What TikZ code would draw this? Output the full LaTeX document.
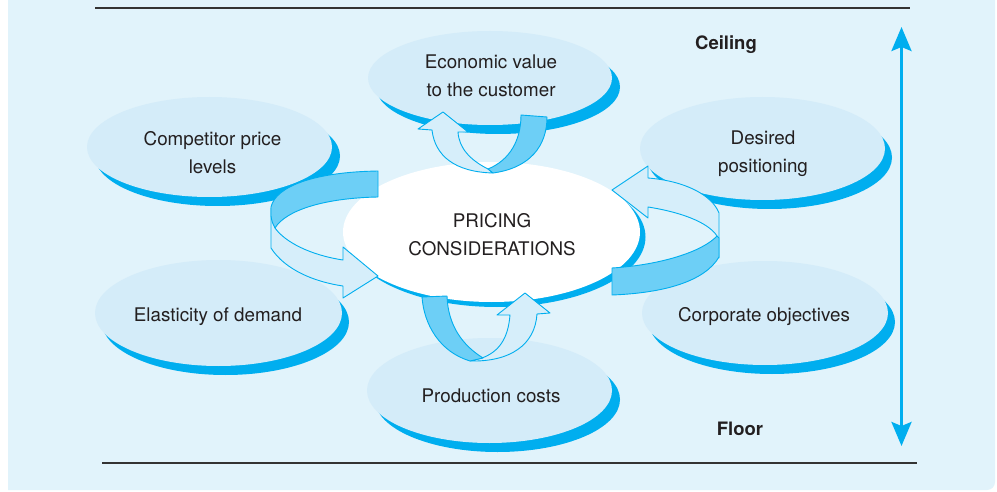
\documentclass[tikz,border=0pt]{standalone}
\usepackage{fontspec}
\setmainfont{TeX Gyre Heros}
\usetikzlibrary{arrows.meta}
\definecolor{bg}{HTML}{E1F3FB}
\definecolor{ell}{HTML}{D4ECF9}
\definecolor{cyanb}{HTML}{00AEEF}
\definecolor{darkrib}{HTML}{6DCFF6}
\definecolor{literib}{HTML}{D6EEFA}
\definecolor{txt}{HTML}{231F20}
\newcommand\bubbleE[6]{%
  \fill[cyanb] ({#1+#5},{#2+#6}) ellipse [x radius=#3, y radius=#4];
  \fill[ell] (#1,#2) ellipse [x radius=#3, y radius=#4];}
\begin{document}
\begin{tikzpicture}[x=1pt,y=-1pt,
  lbl/.style={font=\fontsize{18.8}{28}\selectfont, text=txt, align=center, inner sep=0pt},
  blbl/.style={lbl, font=\fontsize{18.5}{28}\selectfont\bfseries},
  darkpart/.style={fill=darkrib, draw=cyanb, line width=0.9pt, line join=round},
  litepart/.style={fill=literib, draw=cyanb, line width=0.9pt, line join=round},
  rulestyle/.style={line width=1.4pt, draw=black!80},
  scalearrow/.style={draw=cyanb, line width=3pt, {Stealth[length=24pt,width=20pt,inset=4pt]}-{Stealth[length=24pt,width=20pt,inset=4pt]}}]
\useasboundingbox (0,0) rectangle (997,492);
\fill[white] (0,0) rectangle (997,492);
\fill[bg] (8,0) -- (995,0) -- (995,482) arc[start angle=0,end angle=90,radius=8] -- (8,490) -- cycle;
% rules
\draw[rulestyle] (95,8) -- (910,8);
\draw[rulestyle] (102,463) -- (917,463);
% outer bubbles
\bubbleE{490}{78}{122}{47}{8}{9}
\bubbleE{209.5}{147}{122.5}{50}{8}{9}
\bubbleE{762.5}{148.5}{122.5}{51.5}{7}{9}
\bubbleE{218.5}{313}{123.5}{53}{7}{9}
\bubbleE{765}{313}{123}{52}{7}{9}
\bubbleE{489.5}{390.5}{122.5}{52.5}{8}{9}
% centre bubble
\fill[cyanb] (497,237) ellipse [x radius=148.5, y radius=70];
\fill[white] (491.5,232) ellipse [x radius=148.5, y radius=70];
% left ribbon
\draw[litepart] (271,208) -- (271,248) .. controls (285,270) and (315,282) .. (343,286) -- (343,298) -- (378,276) -- (343,247) -- (343,260) .. controls (310,255) and (285,242) .. (275,228) -- cycle;
\draw[darkpart] (378,171) .. controls (315,172) and (276,186) .. (271,207) -- (271,216) .. controls (272,222) .. (275,228) .. controls (286,210) and (325,198) .. (378,197) -- cycle;
% right ribbon
\draw[litepart] (719,258) -- (719,213) .. controls (712,195) and (685,181) .. (648,178) -- (648,166) -- (612,190) -- (648,218) -- (648,207) .. controls (680,212) and (708,222) .. (717,236) -- cycle;
\draw[darkpart] (612,268) .. controls (660,265) and (702,252) .. (717,236) -- (719,238) -- (719,257) .. controls (705,281) and (665,293) .. (612,295) -- cycle;
% top ribbon
\draw[litepart] (432,130) .. controls (435,156) and (455,172) .. (493,173) -- (488,169) .. controls (470,160) and (459,148) .. (458,132) -- (468,132) -- (443,112) -- (418,129) -- cycle;
\draw[darkpart] (521,115) -- (547,117) .. controls (547,146) and (530,168) .. (493,173) -- (488,169) .. controls (510,160) and (521,140) .. (521,115) -- cycle;
% bottom ribbon
\draw[litepart] (510,315) .. controls (508,340) and (498,352) .. (482,358) -- (470,361) .. controls (510,362) and (535,345) .. (537,314) -- (550,313) -- (525,293) -- (497,315) -- cycle;
\draw[darkpart] (422,297) -- (447,296) .. controls (448,325) and (462,345) .. (483,358) -- (470,361) .. controls (440,352) and (424,325) .. (422,297) -- cycle;
% scale arrow
\coordinate (ceil) at (901.5,27);
\coordinate (floor) at (901.5,446);
\draw[scalearrow] (ceil) -- (floor);
% texts
\node[lbl] (econ) at (491,76) {Economic value\\to the customer};
\node[lbl] (comp) at (212.5,153) {Competitor price\\levels};
\node[lbl] (desi) at (763,154) {Desired\\positioning};
\node[lbl] (elas) at (218,317) {Elasticity of demand};
\node[lbl] (corp) at (764,317) {Corporate objectives};
\node[lbl] (prod) at (491,395.5) {Production costs};
\node[lbl] (pric) at (492,235) {PRICING\\CONSIDERATIONS};
\node[blbl] (ceiling) at (726,44.5) {Ceiling};
\node[blbl] (floorl) at (740,429) {Floor};
\end{tikzpicture}
\end{document}
